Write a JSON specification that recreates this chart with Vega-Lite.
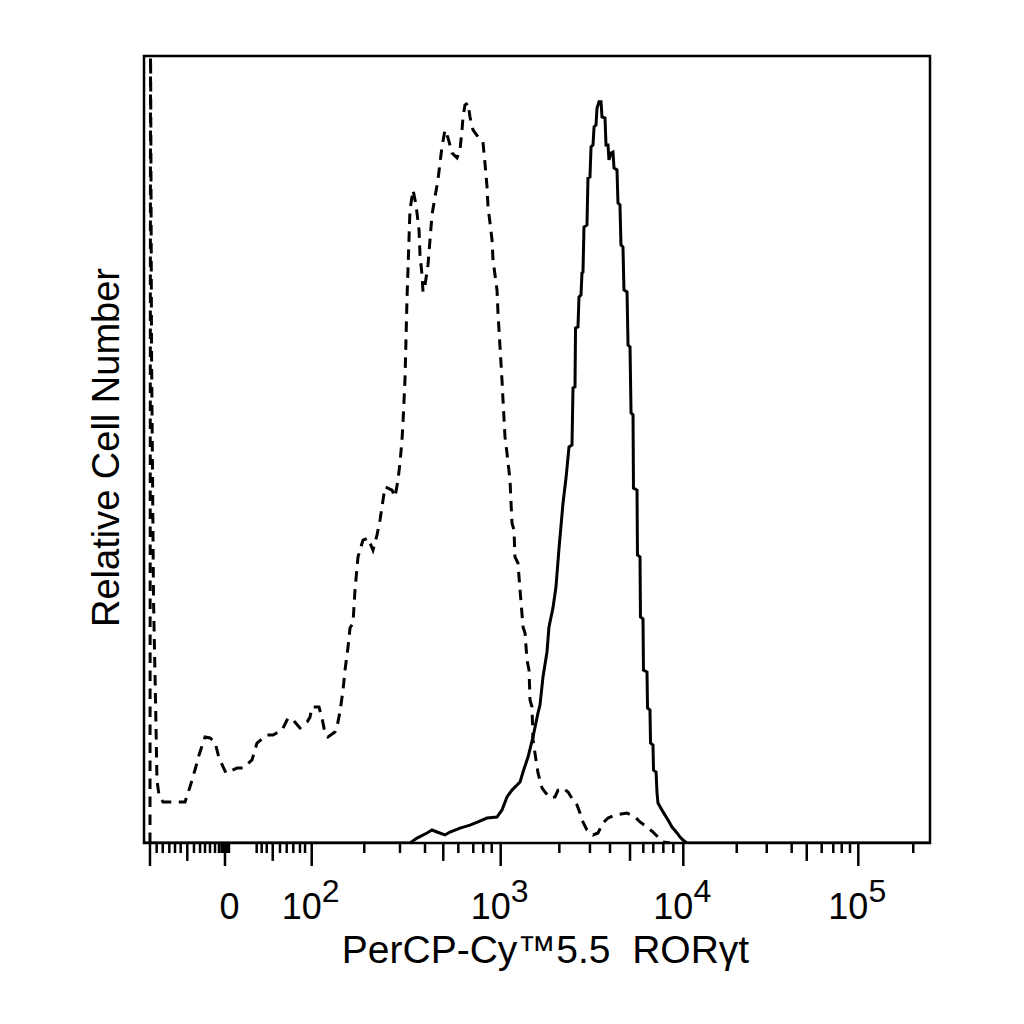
{
  "$schema": "https://vega.github.io/schema/vega-lite/v6.json",
  "width": 786,
  "height": 787,
  "autosize": {"type": "none"},
  "padding": {"left": 144, "top": 56, "right": 94, "bottom": 181},
  "background": "white",
  "config": {"view": {"stroke": "black", "strokeWidth": 2.5}, "font": "Liberation Sans"},
  "datasets": {
    "isotype": [
      {"ch":7.8,"cnt":0},{"ch":8.5,"cnt":413.2},{"ch":9.8,"cnt":250.6},{"ch":12.4,"cnt":123.5},{"ch":15.0,"cnt":72.7},
      {"ch":16.9,"cnt":32.0},{"ch":19.5,"cnt":24.4},{"ch":24.8,"cnt":20.8},{"ch":30.0,"cnt":20.8},{"ch":53.4,"cnt":20.8},
      {"ch":59.9,"cnt":28.5},{"ch":66.4,"cnt":37.1},{"ch":71.7,"cnt":44.7},{"ch":79.5,"cnt":53.9},{"ch":86.0,"cnt":53.4},
      {"ch":92.5,"cnt":51.3},{"ch":97.7,"cnt":43.2},{"ch":106.8,"cnt":35.6},{"ch":121.2,"cnt":38.1},{"ch":129.0,"cnt":38.1},
      {"ch":140.7,"cnt":42.2},{"ch":147.2,"cnt":50.8},{"ch":160.2,"cnt":54.9},{"ch":168.1,"cnt":54.9},{"ch":179.8,"cnt":57.4},
      {"ch":187.6,"cnt":63.5},{"ch":194.1,"cnt":62.5},{"ch":203.2,"cnt":58.5},{"ch":212.4,"cnt":61.5},{"ch":216.3,"cnt":64.0},
      {"ch":218.9,"cnt":69.1},{"ch":228.0,"cnt":69.1},{"ch":231.9,"cnt":63.5},{"ch":235.8,"cnt":55.9},{"ch":239.7,"cnt":53.9},
      {"ch":248.8,"cnt":56.4},{"ch":251.4,"cnt":59.0},{"ch":255.3,"cnt":66.6},{"ch":259.3,"cnt":77.8},{"ch":261.9,"cnt":87.9},
      {"ch":265.8,"cnt":99.6},{"ch":268.4,"cnt":109.3},{"ch":272.3,"cnt":111.8},{"ch":274.9,"cnt":128.6},{"ch":278.8,"cnt":145.4},
      {"ch":285.3,"cnt":154.0},{"ch":291.8,"cnt":155.0},{"ch":298.3,"cnt":148.9},{"ch":303.6,"cnt":156.6},{"ch":307.5,"cnt":164.2},
      {"ch":311.4,"cnt":174.3},{"ch":314.0,"cnt":181.0},{"ch":323.1,"cnt":179.4},{"ch":327.0,"cnt":175.9},{"ch":330.9,"cnt":184.5},
      {"ch":333.5,"cnt":193.2},{"ch":336.1,"cnt":204.8},{"ch":337.4,"cnt":213.5},{"ch":340.0,"cnt":235.3},{"ch":342.6,"cnt":276.0},
      {"ch":343.9,"cnt":291.3},{"ch":346.5,"cnt":321.7},{"ch":350.5,"cnt":331.9},{"ch":354.4,"cnt":324.3},{"ch":358.3,"cnt":311.6},
      {"ch":359.6,"cnt":298.9},{"ch":362.2,"cnt":288.7},{"ch":363.5,"cnt":280.1},{"ch":366.1,"cnt":283.6},{"ch":370.0,"cnt":293.8},
      {"ch":372.6,"cnt":306.5},{"ch":375.2,"cnt":319.2},{"ch":379.1,"cnt":328.4},{"ch":383.0,"cnt":337.0},{"ch":385.6,"cnt":345.6},
      {"ch":388.2,"cnt":353.8},{"ch":392.1,"cnt":362.4},{"ch":396.1,"cnt":358.4},{"ch":401.3,"cnt":350.7},{"ch":407.8,"cnt":348.2},
      {"ch":411.7,"cnt":352.3},{"ch":414.3,"cnt":362.4},{"ch":415.6,"cnt":369.0},{"ch":418.2,"cnt":375.1},{"ch":422.1,"cnt":376.1},
      {"ch":424.7,"cnt":369.0},{"ch":428.6,"cnt":362.4},{"ch":435.1,"cnt":358.9},{"ch":441.6,"cnt":356.3},{"ch":444.2,"cnt":345.6},
      {"ch":446.9,"cnt":333.4},{"ch":448.2,"cnt":323.3},{"ch":450.8,"cnt":315.1},{"ch":453.4,"cnt":306.5},{"ch":454.7,"cnt":296.3},
      {"ch":459.9,"cnt":281.1},{"ch":461.2,"cnt":269.4},{"ch":463.8,"cnt":252.1},{"ch":466.4,"cnt":235.3},{"ch":467.7,"cnt":225.2},
      {"ch":470.3,"cnt":206.4},{"ch":472.9,"cnt":198.2},{"ch":476.8,"cnt":184.5},{"ch":479.4,"cnt":162.7},{"ch":482.0,"cnt":159.1},
      {"ch":483.3,"cnt":145.4},{"ch":487.2,"cnt":142.3},{"ch":489.9,"cnt":128.6},{"ch":493.8,"cnt":109.8},{"ch":496.4,"cnt":106.7},
      {"ch":499.0,"cnt":93.0},{"ch":501.6,"cnt":87.9},{"ch":502.9,"cnt":72.7},{"ch":505.5,"cnt":69.1},{"ch":506.8,"cnt":52.4},
      {"ch":510.7,"cnt":42.2},{"ch":513.3,"cnt":35.6},{"ch":518.5,"cnt":28.0},{"ch":522.4,"cnt":25.9},{"ch":528.9,"cnt":22.9},
      {"ch":535.5,"cnt":23.4},{"ch":539.4,"cnt":26.9},{"ch":545.9,"cnt":28.0},{"ch":552.4,"cnt":25.9},{"ch":558.9,"cnt":21.9},
      {"ch":564.1,"cnt":19.3},{"ch":568.0,"cnt":15.2},{"ch":570.6,"cnt":11.7},{"ch":577.1,"cnt":6.6},{"ch":585.0,"cnt":4.1},
      {"ch":591.5,"cnt":5.1},{"ch":598.0,"cnt":10.2},{"ch":604.5,"cnt":12.7},{"ch":613.6,"cnt":14.2},{"ch":629.3,"cnt":15.2},
      {"ch":639.7,"cnt":13.2},{"ch":646.2,"cnt":10.7},{"ch":655.3,"cnt":8.1},{"ch":663.1,"cnt":5.6},{"ch":669.6,"cnt":3.0},
      {"ch":676.2,"cnt":0.5},{"ch":685.3,"cnt":0}
    ],
    "rorgt": [
      {"ch":0,"cnt":0},{"ch":346.5,"cnt":0},{"ch":355.7,"cnt":2.5},{"ch":368.7,"cnt":5.1},{"ch":375.2,"cnt":6.6},
      {"ch":381.7,"cnt":5.6},{"ch":392.1,"cnt":4.1},{"ch":398.7,"cnt":5.6},{"ch":411.7,"cnt":7.6},{"ch":424.7,"cnt":9.1},
      {"ch":435.1,"cnt":10.7},{"ch":446.9,"cnt":12.7},{"ch":459.9,"cnt":13.2},{"ch":466.4,"cnt":16.8},{"ch":472.9,"cnt":23.4},
      {"ch":479.4,"cnt":26.9},{"ch":489.9,"cnt":31.0},{"ch":493.8,"cnt":36.1},{"ch":500.3,"cnt":43.7},{"ch":506.8,"cnt":53.9},
      {"ch":513.3,"cnt":66.1},{"ch":515.9,"cnt":70.1},{"ch":519.8,"cnt":84.4},{"ch":525.0,"cnt":97.1},{"ch":527.6,"cnt":109.8},
      {"ch":532.8,"cnt":119.5},{"ch":536.7,"cnt":130.1},{"ch":540.7,"cnt":149.9},{"ch":545.9,"cnt":172.8},{"ch":549.8,"cnt":185.5},
      {"ch":553.7,"cnt":201.3},{"ch":557.6,"cnt":202.3},{"ch":558.9,"cnt":231.3},{"ch":561.5,"cnt":231.8},{"ch":562.2,"cnt":261.8},
      {"ch":565.4,"cnt":262.3},{"ch":566.7,"cnt":277.5},{"ch":569.3,"cnt":278.5},{"ch":570.6,"cnt":289.7},{"ch":571.9,"cnt":290.2},
      {"ch":573.2,"cnt":313.1},{"ch":577.1,"cnt":314.1},{"ch":578.4,"cnt":338.0},{"ch":581.0,"cnt":338.5},{"ch":582.4,"cnt":353.8},
      {"ch":585.0,"cnt":354.8},{"ch":586.3,"cnt":363.9},{"ch":588.9,"cnt":365.0},{"ch":590.2,"cnt":373.6},{"ch":592.8,"cnt":376.7},
      {"ch":595.4,"cnt":376.7},{"ch":596.7,"cnt":369.0},{"ch":600.6,"cnt":368.5},{"ch":601.9,"cnt":354.8},{"ch":604.5,"cnt":354.8},
      {"ch":605.8,"cnt":347.2},{"ch":608.4,"cnt":350.7},{"ch":611.0,"cnt":351.2},{"ch":612.3,"cnt":343.1},{"ch":616.2,"cnt":342.1},
      {"ch":617.5,"cnt":325.3},{"ch":620.1,"cnt":324.3},{"ch":621.4,"cnt":304.0},{"ch":624.0,"cnt":302.9},{"ch":625.3,"cnt":281.1},
      {"ch":629.3,"cnt":280.1},{"ch":630.6,"cnt":253.1},{"ch":633.2,"cnt":252.1},{"ch":634.5,"cnt":218.6},{"ch":637.1,"cnt":217.6},
      {"ch":637.7,"cnt":180.4},{"ch":642.3,"cnt":179.4},{"ch":642.9,"cnt":146.4},{"ch":646.2,"cnt":145.4},{"ch":646.8,"cnt":114.9},
      {"ch":650.1,"cnt":113.9},{"ch":650.7,"cnt":87.9},{"ch":655.3,"cnt":86.9},{"ch":656.0,"cnt":68.6},{"ch":659.2,"cnt":67.6},
      {"ch":659.9,"cnt":50.8},{"ch":663.1,"cnt":49.8},{"ch":663.8,"cnt":37.1},{"ch":667.1,"cnt":36.1},{"ch":668.3,"cnt":25.9},
      {"ch":669.6,"cnt":20.3},{"ch":676.2,"cnt":15.8},{"ch":682.7,"cnt":11.7},{"ch":687.9,"cnt":8.1},{"ch":694.4,"cnt":5.1},
      {"ch":698.3,"cnt":3.0},{"ch":702.2,"cnt":1.5},{"ch":707.4,"cnt":0},{"ch":1024,"cnt":0}
    ],
    "exponents": [
      {"ch":218.5,"cnt":0,"e":"2"},{"ch":464.7,"cnt":0,"e":"3"},{"ch":702.6,"cnt":0,"e":"4"},{"ch":930.6,"cnt":0,"e":"5"}
    ],
    "ticks": [
      {"ch":7.8,"kind":"major"},{"ch":105.5,"kind":"major"},{"ch":218.5,"kind":"major"},{"ch":464.7,"kind":"major"},{"ch":702.6,"kind":"major"},{"ch":930.6,"kind":"major"},
      {"ch":56.4,"kind":"medium"},{"ch":167.7,"kind":"medium"},{"ch":389.9,"kind":"medium"},{"ch":633.2,"kind":"medium"},{"ch":863.4,"kind":"medium"},
      {"ch":16.5,"kind":"minor"},{"ch":24.4,"kind":"minor"},{"ch":33,"kind":"minor"},{"ch":40.4,"kind":"minor"},{"ch":47.8,"kind":"minor"},
      {"ch":65.1,"kind":"minor"},{"ch":73,"kind":"minor"},{"ch":79.5,"kind":"minor"},{"ch":86,"kind":"minor"},{"ch":92.5,"kind":"minor"},
      {"ch":97.7,"kind":"minor"},{"ch":101,"kind":"minor"},{"ch":102.9,"kind":"minor"},{"ch":108.1,"kind":"minor"},{"ch":110.7,"kind":"minor"},
      {"ch":146.8,"kind":"minor"},{"ch":153.3,"kind":"minor"},{"ch":159.9,"kind":"minor"},{"ch":177.2,"kind":"minor"},{"ch":185.9,"kind":"minor"},
      {"ch":194.5,"kind":"minor"},{"ch":203.2,"kind":"minor"},{"ch":209.8,"kind":"minor"},
      {"ch":287,"kind":"minor"},{"ch":333.5,"kind":"minor"},{"ch":366.1,"kind":"minor"},{"ch":409.5,"kind":"minor"},{"ch":429,"kind":"minor"},{"ch":442,"kind":"minor"},{"ch":453,"kind":"minor"},
      {"ch":541.1,"kind":"minor"},{"ch":581,"kind":"minor"},{"ch":607.1,"kind":"minor"},{"ch":650.5,"kind":"minor"},{"ch":663.5,"kind":"minor"},{"ch":676.6,"kind":"minor"},{"ch":689.6,"kind":"minor"},
      {"ch":772.2,"kind":"minor"},{"ch":811.3,"kind":"minor"},{"ch":843.8,"kind":"minor"},{"ch":882.9,"kind":"minor"},{"ch":898,"kind":"minor"},{"ch":909,"kind":"minor"},{"ch":919.8,"kind":"minor"},
      {"ch":1002.2,"kind":"minor"}
    ]
  },
  "encoding": {
    "x": {
      "field": "ch", "type": "quantitative",
      "scale": {"domain": [0, 1024], "nice": false, "zero": false},
      "axis": {
        "values": [105.5, 218.5, 464.7, 702.6, 930.6],
        "grid": false, "domain": false, "ticks": false, "tickSize": 0,
        "labelExpr": "datum.value == 105.5 ? '0' : '10'",
        "labelFont": "Liberation Sans", "labelFontSize": 36, "labelColor": "black",
        "labelOffset": {"condition": {"test": "datum.value == 105.5", "value": 4}, "value": -10.5},
        "labelBaseline": "alphabetic", "labelPadding": 75,
        "labelOverlap": false, "labelBound": false, "labelFlush": false,
        "title": "PerCP-Cy™5.5\u00a0 RORγt",
        "titleFont": "Liberation Sans", "titleFontSize": 39, "titleFontWeight": "normal", "titleColor": "black",
        "titleBaseline": "alphabetic", "titleX": 401, "titleY": 119
      }
    }
  },
  "layer": [
    {"data": {"name": "isotype"}, "mark": {"type": "line", "color": "black", "strokeWidth": 3, "strokeDash": [10.5, 7.5], "clip": true},
     "encoding": {"y": {
      "field": "cnt", "type": "quantitative",
      "scale": {"domain": [0, 400], "nice": false, "zero": false},
      "axis": {
        "ticks": false, "labels": false, "domain": false, "grid": false,
        "title": "Relative Cell Number",
        "titleFont": "Liberation Sans", "titleFontSize": 38, "titleFontWeight": "normal", "titleColor": "black",
        "titleAngle": 270, "titleBaseline": "alphabetic", "titleX": -26, "titleY": 391
      }}}},
    {"data": {"name": "rorgt"}, "mark": {"type": "line", "color": "black", "strokeWidth": 3, "clip": true},
     "encoding": {"y": {"field": "cnt", "type": "quantitative"}}},
    {"data": {"name": "exponents"}, "mark": {"type": "text", "font": "Liberation Sans", "fontSize": 32, "dx": 19, "dy": 59, "baseline": "alphabetic", "align": "center", "color": "black"},
     "encoding": {"y": {"field": "cnt", "type": "quantitative"}, "text": {"field": "e"}}},
    {"data": {"name": "ticks"}, "transform": [{"filter": "datum.kind == 'major'"}], "mark": {"type": "rule", "color": "black", "strokeWidth": 2.5},
     "encoding": {"y": {"datum": 0, "type": "quantitative"}, "y2": {"datum": -11.7}}},
    {"data": {"name": "ticks"}, "transform": [{"filter": "datum.kind == 'medium'"}], "mark": {"type": "rule", "color": "black", "strokeWidth": 2.5},
     "encoding": {"y": {"datum": 0, "type": "quantitative"}, "y2": {"datum": -9.1}}},
    {"data": {"name": "ticks"}, "transform": [{"filter": "datum.kind == 'minor'"}], "mark": {"type": "rule", "color": "black", "strokeWidth": 2.5},
     "encoding": {"y": {"datum": 0, "type": "quantitative"}, "y2": {"datum": -5.1}}}
  ]
}
